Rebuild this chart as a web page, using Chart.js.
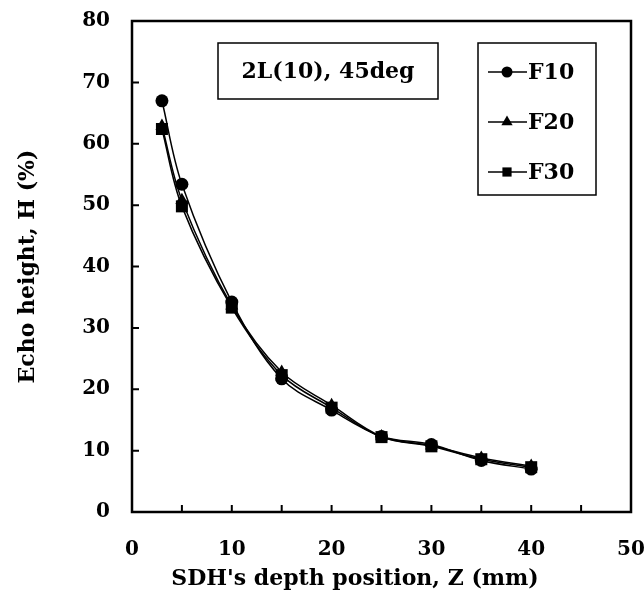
<!DOCTYPE html>
<html>
<head>
<meta charset="utf-8">
<script src="https://cdn.jsdelivr.net/npm/chart.js@4"></script>
<style>
  html, body { margin: 0; padding: 0; background: #fff; }
  #wrap { width: 644px; height: 602px; }
</style>
</head>
<body>
<div id="wrap"><canvas id="c" width="644" height="602"></canvas></div>
<script>
// SDH depth positions (mm)
const depthZ = [3, 5, 10, 15, 20, 25, 30, 35, 40];
// Echo height H (%) for each series
const echoF10 = [67.0, 53.4, 34.2, 21.7, 16.6, 12.3, 11.0, 8.4, 7.0];
const echoF20 = [62.9, 50.8, 33.6, 22.8, 17.4, 12.3, 10.8, 8.8, 7.5];
const echoF30 = [62.4, 49.8, 33.3, 22.3, 17.0, 12.2, 10.7, 8.6, 7.3];

const seriesNames = ['F10', 'F20', 'F30'];
const seriesMarkers = ['circle', 'triangle', 'rect'];
const seriesValues = [echoF10, echoF20, echoF30];

const xTicks = [0, 10, 20, 30, 40, 50];
const yTicks = [0, 10, 20, 30, 40, 50, 60, 70, 80];
const boxText = '2L(10), 45deg';
const xTitle = "SDH's depth position, Z (mm)";
const yTitle = 'Echo height, H (%)';

const FONT = '"DejaVu Serif", "Liberation Serif", serif';
const markerRadius = { circle: 6.5, triangle: 7.5, rect: 8.5 };

const datasets = seriesNames.map((name, i) => ({
  label: name,
  data: depthZ.map((z, k) => ({ x: z, y: seriesValues[i][k] })),
  borderColor: '#000',
  backgroundColor: '#000',
  borderWidth: 1.5,
  pointStyle: seriesMarkers[i],
  pointRadius: markerRadius[seriesMarkers[i]],
  pointBorderWidth: 0,
  tension: 0.35,
  fill: false
}));

// keep the plot frame exactly where the layout padding puts it
function noScalePadding(s) {
  s.paddingLeft = 0; s.paddingRight = 0; s.paddingTop = 0; s.paddingBottom = 0;
}

// Frame, inward tick marks, x title, annotation box and legend box
const decorations = {
  id: 'decorations',
  afterDraw(chart) {
    const ctx = chart.ctx;
    const a = chart.chartArea;
    const xs = chart.scales.x, ys = chart.scales.y;
    ctx.save();
    ctx.strokeStyle = '#000';

    // inward ticks
    ctx.lineWidth = 2;
    ctx.beginPath();
    for (let v = 5; v < 50; v += 5) {
      const px = xs.getPixelForValue(v);
      ctx.moveTo(px, a.bottom);
      ctx.lineTo(px, a.bottom - 7);
    }
    for (let v = 10; v < 80; v += 10) {
      const py = ys.getPixelForValue(v);
      ctx.moveTo(a.left, py);
      ctx.lineTo(a.left + 7, py);
    }
    ctx.stroke();

    // plot frame
    ctx.lineWidth = 2.5;
    ctx.strokeRect(a.left, a.top, a.right - a.left, a.bottom - a.top);

    // x axis title
    ctx.fillStyle = '#000';
    ctx.font = 'bold 22px ' + FONT;
    ctx.textAlign = 'center';
    ctx.textBaseline = 'middle';
    ctx.fillText(xTitle, 355, 579);

    // annotation box
    ctx.lineWidth = 1.5;
    ctx.fillStyle = '#fff';
    ctx.fillRect(218, 43, 220, 56);
    ctx.strokeRect(218, 43, 220, 56);
    ctx.fillStyle = '#000';
    ctx.font = 'bold 22px ' + FONT;
    ctx.fillText(boxText, 328, 72);

    // legend box
    const lx = 478, ly = 43, lw = 118, lh = 152;
    ctx.fillStyle = '#fff';
    ctx.fillRect(lx, ly, lw, lh);
    ctx.strokeRect(lx, ly, lw, lh);
    ctx.textAlign = 'left';
    ctx.font = 'bold 22px ' + FONT;
    chart.data.datasets.forEach((ds, i) => {
      const cy = ly + 29 + i * 50;
      ctx.strokeStyle = '#000';
      ctx.lineWidth = 1.5;
      ctx.beginPath();
      ctx.moveTo(lx + 10, cy);
      ctx.lineTo(lx + 49, cy);
      ctx.stroke();
      ctx.fillStyle = '#000';
      Chart.helpers.drawPoint(ctx, {
        pointStyle: ds.pointStyle,
        radius: ds.pointStyle === 'circle' ? 5.5 : 6.5,
        borderWidth: 0,
        rotation: 0
      }, lx + 29, cy);
      ctx.fillStyle = '#000';
      ctx.fillText(ds.label, lx + 50, cy + 1);
    });
    ctx.restore();
  }
};

new Chart(document.getElementById('c'), {
  type: 'line',
  data: { datasets },
  options: {
    responsive: false,
    animation: false,
    devicePixelRatio: 1,
    layout: { padding: { left: 0, top: 21, right: 13, bottom: 0 } },
    plugins: { legend: { display: false }, tooltip: { enabled: false } },
    scales: {
      x: {
        type: 'linear',
        min: 0, max: 50,
        afterFit(s) { s.height = 90; noScalePadding(s); },
        afterBuildTicks(s) { s.ticks = xTicks.map(v => ({ value: v })); },
        grid: { display: false, drawTicks: false },
        border: { display: false },
        ticks: {
          color: '#000',
          padding: 26,
          font: { family: FONT, size: 20, weight: 'bold' }
        }
      },
      y: {
        type: 'linear',
        min: 0, max: 80,
        afterFit(s) { s.width = 132; noScalePadding(s); },
        afterBuildTicks(s) { s.ticks = yTicks.map(v => ({ value: v })); },
        grid: { display: false, drawTicks: false },
        border: { display: false },
        ticks: {
          color: '#000',
          padding: 22,
          font: { family: FONT, size: 20, weight: 'bold' }
        },
        title: {
          display: true,
          text: yTitle,
          color: '#000',
          font: { family: FONT, size: 22, weight: 'bold' },
          padding: { top: 15, bottom: 0 }
        }
      }
    }
  },
  plugins: [decorations]
});
</script>
</body>
</html>
